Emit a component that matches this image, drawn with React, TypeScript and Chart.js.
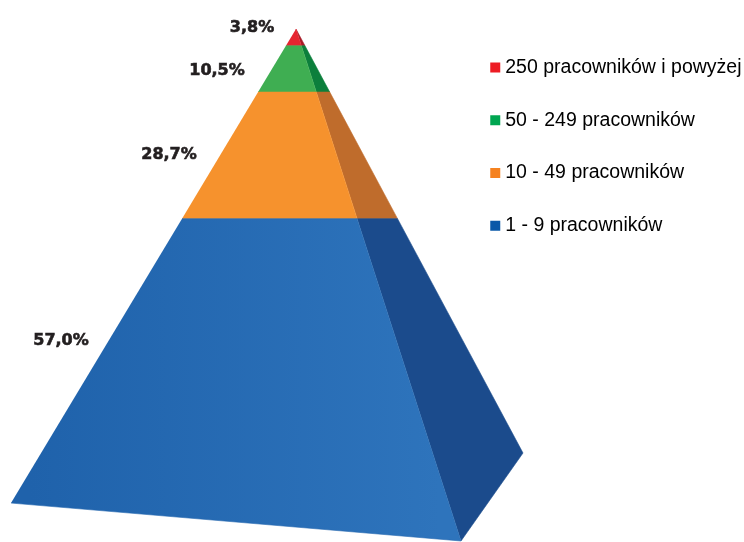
import React, { useEffect, useRef } from "react";
import { Chart, registerables } from "chart.js";

Chart.register(...registerables);

// Workforce-size classes, bottom band of the pyramid first.
const sizeClasses = ["1 - 9 pracowników", "10 - 49 pracowników", "50 - 249 pracowników", "250 pracowników i powyżej"];
const shares = [57.0, 28.7, 10.5, 3.8];
const shareLabels = ["57,0%", "28,7%", "10,5%", "3,8%"];

const frontColors = ["#2568b0", "#f6922d", "#3fae52", "#e62530"];
const sideColors = ["#1b4b8c", "#bf6c2c", "#0c7f3c", "#a81c28"];
const legendColors = ["#0a58a8", "#f58220", "#00a651", "#ed1c24"];

// Pyramid outline on the chart's axes: x is a horizontal layout axis, y the cumulative share.
const apex = { x: 296, y: 100 };
const leftCorner = { x: 11, y: -7.5 };
const frontCorner = { x: 461, y: -16.1 };
const rightCorner = { x: 523, y: 3.85 };

// Anchor of each share label on the same axes.
const labelX = [61, 169, 217, 252];
const labelY = [29.25, 71.45, 90.45, 100.25];

type Pt = { x: number; y: number };

// Point where the plane at cumulative share v crosses the edge running from apex to corner.
const onEdge = (corner: Pt, v: number): Pt => {
  if (v <= 0) return corner;
  const t = (apex.y - v) / (apex.y - corner.y);
  return { x: apex.x + t * (corner.x - apex.x), y: v };
};

const bandBounds = shares.map((_, i) => {
  const lower = shares.slice(0, i).reduce((a, b) => a + b, 0);
  return [lower, lower + shares[i]];
});

const face = (a: Pt, b: Pt, lo: number, hi: number): Pt[] => [onEdge(a, lo), onEdge(b, lo), onEdge(b, hi), onEdge(a, hi)];

const blueSheen = (ctx: any) => {
  const { chart } = ctx;
  if (!chart.chartArea) return frontColors[0];
  const g = chart.ctx.createLinearGradient(30, 0, 440, 0);
  g.addColorStop(0, "#1f62ab");
  g.addColorStop(1, "#2e74bc");
  return g;
};

const polygonStyle = (color: any, edge: string) => ({
  showLine: true,
  fill: "shape",
  backgroundColor: color,
  borderColor: edge,
  borderWidth: 0.6,
  pointRadius: 0,
  tension: 0,
  clip: false,
});

const frontDatasets = bandBounds.map(([lo, hi], i) => ({
  label: sizeClasses[i],
  data: face(leftCorner, frontCorner, lo, hi),
  ...polygonStyle(i === 0 ? blueSheen : frontColors[i], frontColors[i]),
}));

const sideDatasets = bandBounds.map(([lo, hi], i) => ({
  label: sizeClasses[i] + " (bok)",
  data: face(frontCorner, rightCorner, lo, hi),
  ...polygonStyle(sideColors[i], sideColors[i]),
}));

// Puts the legend in the free space to the right of the pyramid.
const legendPlacement = {
  id: "legendPlacement",
  afterLayout(chart: any) {
    const legend = chart.legend;
    legend.left = 461.8;
    legend.right = 744;
    legend.top = 24.6;
    legend.bottom = 300;
  },
};

// Writes the share of each band to the left of the pyramid, slightly emboldened.
const shareText = {
  id: "shareText",
  afterDatasetsDraw(chart: any) {
    const { ctx, scales } = chart;
    ctx.save();
    ctx.font = 'bold 16px "DejaVu Sans"';
    ctx.fillStyle = "#231f20";
    ctx.strokeStyle = "#231f20";
    ctx.lineWidth = 0.6;
    ctx.textAlign = "center";
    ctx.textBaseline = "middle";
    shareLabels.forEach((text, i) => {
      const x = scales.x.getPixelForValue(labelX[i]);
      const y = scales.y.getPixelForValue(labelY[i]);
      ctx.fillText(text, x, y);
      ctx.strokeText(text, x, y);
    });
    ctx.restore();
  },
};

export default function App() {
  const canvasRef = useRef<HTMLCanvasElement>(null);

  useEffect(() => {
    const chart = new Chart(canvasRef.current!, {
      type: "scatter",
      data: { datasets: [...frontDatasets, ...sideDatasets] as any },
      plugins: [legendPlacement, shareText],
      options: {
        animation: false,
        responsive: false,
        layout: { padding: 0 },
        scales: {
          x: { type: "linear", min: 0, max: 744, display: false },
          y: { type: "linear", min: -16.33, max: 106.58, display: false },
        },
        plugins: {
          tooltip: { enabled: false },
          legend: {
            position: "chartArea" as any,
            align: "start",
            labels: {
              usePointStyle: true,
              pointStyle: "rect",
              boxWidth: 0.5,
              boxHeight: 10,
              padding: 33.2,
              color: "#333333",
              font: { family: '"Liberation Sans"', size: 19.5 },
              generateLabels: () =>
                sizeClasses
                  .map((text, i) => ({
                    text,
                    fillStyle: legendColors[i],
                    strokeStyle: legendColors[i],
                    lineWidth: 0,
                    pointStyle: "rect",
                    hidden: false,
                    datasetIndex: i,
                  }))
                  .reverse(),
            },
          },
        },
      },
    });
    return () => chart.destroy();
  }, []);

  return (
    <canvas
      ref={canvasRef}
      width={744}
      height={542}
      style={{ position: "absolute", left: 0, top: 0, display: "block" }}
    />
  );
}
